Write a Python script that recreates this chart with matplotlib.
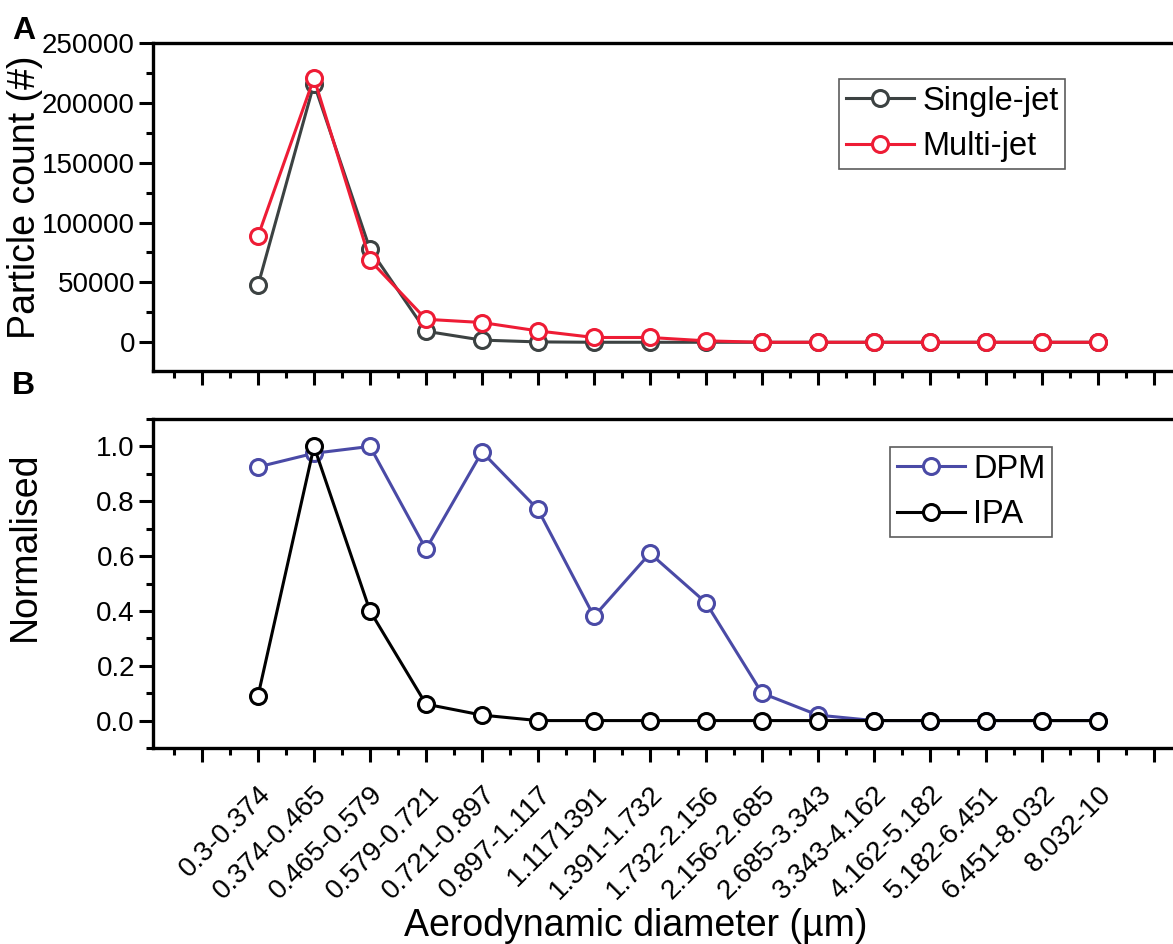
import matplotlib
matplotlib.use("Agg")
import matplotlib.pyplot as plt
from matplotlib.ticker import MultipleLocator, FixedLocator, FormatStrFormatter

plt.rcParams['font.family'] = ['Liberation Sans', 'DejaVu Sans']

categories = ["0.3-0.374", "0.374-0.465", "0.465-0.579", "0.579-0.721", "0.721-0.897",
              "0.897-1.117", "1.1171391", "1.391-1.732", "1.732-2.156", "2.156-2.685",
              "2.685-3.343", "3.343-4.162", "4.162-5.182", "5.182-6.451", "6.451-8.032",
              "8.032-10"]
single_jet = [47500, 216000, 77700, 9200, 1800, 300, 0, 0, 0, 0, 0, 0, 0, 0, 0, 0]
multi_jet = [88600, 220700, 68500, 19200, 16500, 9500, 4000, 4000, 1200, 0, 0, 0, 0, 0, 0, 0]
dpm = [0.925, 0.975, 1.0, 0.625, 0.98, 0.77, 0.38, 0.61, 0.43, 0.10, 0.02, 0, 0, 0, 0, 0]
ipa = [0.09, 1.0, 0.40, 0.06, 0.02, 0, 0, 0, 0, 0, 0, 0, 0, 0, 0, 0]

x = list(range(len(categories)))

fig = plt.figure(figsize=(11.73, 9.44), dpi=100)
W, H = 1173, 944
axA = fig.add_axes([153 / W, 1 - 371 / H, 1 - 153 / W, (371 - 43) / H])
axB = fig.add_axes([153 / W, 1 - 748 / H, 1 - 153 / W, (748 - 419) / H])

mk = dict(marker='o', markersize=11.5, markerfacecolor='white', markeredgewidth=2.2, linewidth=2.2)
axA.plot(x, single_jet, color='#3c4242', label='Single-jet', **mk)
axA.plot(x, multi_jet, color='#ee1c35', label='Multi-jet', **mk)
axB.plot(x, dpm, color='#4a4aa6', label='DPM', **mk)
axB.plot(x, ipa, color='#000000', label='IPA', **mk)

for ax in (axA, axB):
    ax.set_xlim(-1.875, 16.34)
    ax.spines['right'].set_visible(False)
    for s in ('left', 'top', 'bottom'):
        ax.spines[s].set_linewidth(2.4)
    ax.xaxis.set_major_locator(FixedLocator(list(range(-1, 17))))
    ax.xaxis.set_minor_locator(MultipleLocator(0.5))
    ax.tick_params(axis='both', which='major', direction='out', length=10, width=2.2,
                   labelsize=20, pad=3)
    ax.tick_params(axis='both', which='minor', direction='out', length=5, width=2.2)
    ax.tick_params(axis='x', top=False, which='both')

axA.set_ylim(-24000, 250000)
axA.yaxis.set_major_locator(MultipleLocator(50000))
axA.yaxis.set_minor_locator(MultipleLocator(25000))
axA.set_xticklabels([])
axA.set_ylabel('Particle count (#)', fontsize=27)
axA.yaxis.set_label_coords(43 / W, 1 - 197 / H, transform=fig.transFigure)

axB.set_ylim(-0.1, 1.1)
axB.yaxis.set_major_locator(MultipleLocator(0.2))
axB.yaxis.set_minor_locator(MultipleLocator(0.1))
axB.yaxis.set_major_formatter(FormatStrFormatter('%.1f'))
axB.set_ylabel('Normalised', fontsize=27)
axB.yaxis.set_label_coords(43 / W, 1 - 546 / H, transform=fig.transFigure)

labels = [''] + categories + ['']
axB.set_xticklabels(labels, rotation=45, ha='right', va='top', rotation_mode='anchor',
                    fontsize=20)
axB.tick_params(axis='x', which='major', pad=14)
axB.set_xlabel('Aerodynamic diameter (µm)', fontsize=27)
axB.xaxis.set_label_coords(636 / W, 1 - 908 / H, transform=fig.transFigure)

legkw = dict(fontsize=23.5, frameon=True, fancybox=False, edgecolor='#333333',
             handlelength=2.1, handletextpad=0.25, borderpad=0.2, labelspacing=0.45,
             borderaxespad=0)
legA = axA.legend(loc='upper left', bbox_to_anchor=((839 - 153) / (W - 153), 1 - (79 - 43) / (371 - 43)), **legkw)
legB = axB.legend(loc='upper left', bbox_to_anchor=((890 - 153) / (W - 153), 1 - (447 - 419) / (748 - 419)), **legkw)
for leg in (legA, legB):
    leg.get_frame().set_linewidth(1.2)

fig.text(12 / W, 1 - 31 / H, 'A', fontsize=23, fontweight='bold', va='center', ha='left')
fig.text(12 / W, 1 - 386 / H, 'B', fontsize=23, fontweight='bold', va='center', ha='left')

fig.savefig('out.png', dpi=100)
